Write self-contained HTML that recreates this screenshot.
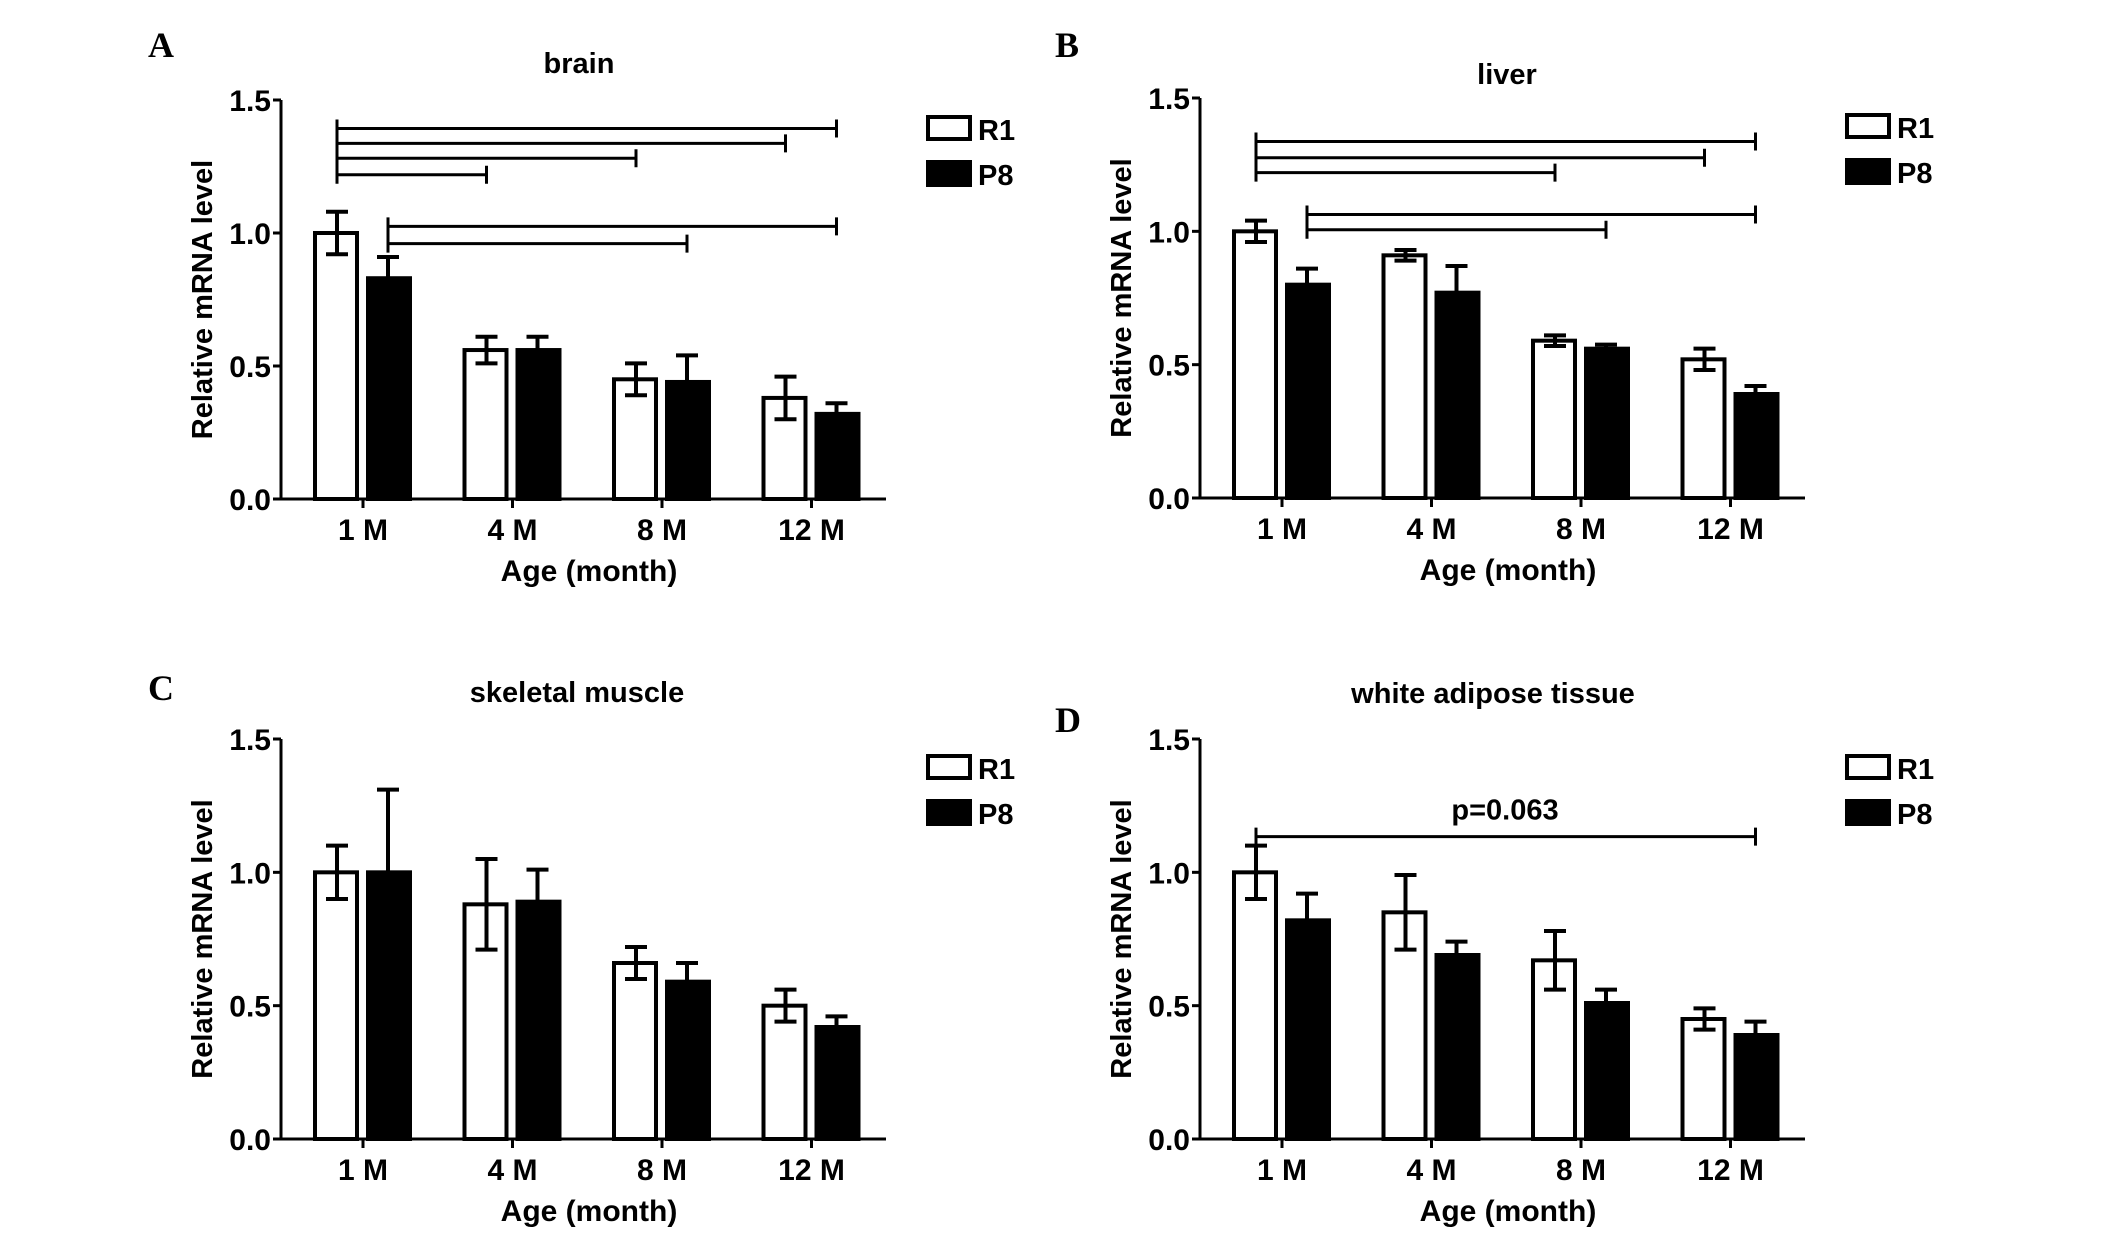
<!DOCTYPE html>
<html><head><meta charset="utf-8"><style>
html,body{margin:0;padding:0;background:#fff}
svg{display:block}
text{font-family:"Liberation Sans",Arial,sans-serif;font-weight:bold;fill:#000}
</style></head><body>
<svg id="fig" width="2126" height="1236" viewBox="0 0 2126 1236" xmlns="http://www.w3.org/2000/svg"></svg>
<script>
const categories = ["1 M","4 M","8 M","12 M"];
const yTicks = [0.0,0.5,1.0,1.5];
const yTickLabels = ["0.0","0.5","1.0","1.5"];
const brainR1 = [1.0,0.56,0.45,0.38];
const brainR1Err = [0.08,0.05,0.06,0.08];
const brainP8 = [0.83,0.56,0.44,0.32];
const brainP8Err = [0.08,0.05,0.10,0.04];
const liverR1 = [1.0,0.91,0.59,0.52];
const liverR1Err = [0.04,0.02,0.02,0.04];
const liverP8 = [0.80,0.77,0.56,0.39];
const liverP8Err = [0.06,0.10,0.015,0.03];
const muscleR1 = [1.0,0.88,0.66,0.50];
const muscleR1Err = [0.10,0.17,0.06,0.06];
const muscleP8 = [1.0,0.89,0.59,0.42];
const muscleP8Err = [0.31,0.12,0.07,0.04];
const fatR1 = [1.0,0.85,0.67,0.45];
const fatR1Err = [0.10,0.14,0.11,0.04];
const fatP8 = [0.82,0.69,0.51,0.39];
const fatP8Err = [0.10,0.05,0.05,0.05];
// brackets: [startCat, startSeries, endCat, endSeries, level]
const brainBrackets = [[0,0,3,1,1.393],[0,0,3,0,1.337],[0,0,2,0,1.281],[0,0,1,0,1.219],[0,1,3,1,1.025],[0,1,2,1,0.96]];
const liverBrackets = [[0,0,3,1,1.337],[0,0,3,0,1.276],[0,0,2,0,1.22],[0,1,3,1,1.063],[0,1,2,1,1.006]];
const fatBrackets = [[0,0,3,1,1.134]];

const NS="http://www.w3.org/2000/svg";
const svg=document.getElementById('fig');
function mk(tag,attrs,parent,txt){const e=document.createElementNS(NS,tag);for(const k in attrs)e.setAttribute(k,attrs[k]);if(txt!==undefined)e.textContent=txt;(parent||svg).appendChild(e);return e;}

function panel(o){
  const g=mk('g',{});
  
  
  const ax=o.ax,y0=o.y0,yT=o.yT,xEnd=ax+605;
  const Y=v=>y0-(v/1.5)*(y0-yT);
  const C=i=>ax+82+i*149.5;
  const bx=(i,s)=>s===0?C(i)-26:C(i)+25;
  const L=mk('text',{x:o.lx,y:o.ly,'font-size':36,style:'font-family:"Liberation Serif",serif;font-weight:bold'},g,o.letter);
  
  
  const T=mk('text',{x:o.tx,y:o.ty,'font-size':29,'text-anchor':'middle'},g,o.title);
  
  
  for(let s=0;s<2;s++){
    const vals=s===0?o.r1:o.p8, errs=s===0?o.r1e:o.p8e;
    vals.forEach((v,i)=>{
      const x0=s===0?C(i)-50:C(i)+3, w=46;
      const r=mk('rect',{x:x0+2,y:Y(v),width:w-4,height:y0-Y(v),fill:s===0?'#fff':'#000',stroke:'#000','stroke-width':4},g);
      
      
      const cx=bx(i,s), top=Y(v+errs[i]), bot=s===0?Y(v-errs[i]):Y(v);
      const e=mk('path',{d:`M${cx},${top}V${bot}M${cx-11},${top}H${cx+11}`+(s===0?`M${cx-11},${bot}H${cx+11}`:''),stroke:'#000','stroke-width':4,fill:'none'},g);
      
      
    });
  }
  const a=mk('path',{d:`M${ax},${yT}V${y0}H${xEnd}`,stroke:'#000','stroke-width':3,fill:'none'},g);
  
  
  yTicks.forEach((t,i)=>{
    mk('line',{x1:ax-8,x2:ax,y1:Y(t),y2:Y(t),stroke:'#000','stroke-width':3},g);
    const tl=mk('text',{x:ax-10,y:Y(t)+11,'font-size':30,'text-anchor':'end'},g,yTickLabels[i]);
    
    
  });
  categories.forEach((c,i)=>{
    mk('line',{x1:C(i),x2:C(i),y1:y0,y2:y0+9,stroke:'#000','stroke-width':3},g);
    const cl=mk('text',{x:C(i),y:y0+41,'font-size':30,'text-anchor':'middle'},g,c);
    
    
  });
  const xt=mk('text',{x:ax+308,y:y0+82,'font-size':30,'text-anchor':'middle'},g,'Age (month)');
  
  
  const yc=(y0+yT)/2;
  const yt=mk('text',{x:0,y:0,'font-size':29,'text-anchor':'middle',transform:`translate(${ax-69},${yc}) rotate(-90)`},g,'Relative mRNA level');
  
  
  (o.br||[]).forEach(b=>{
    const x1=bx(b[0],b[1]), x2=bx(b[2],b[3]), y=Y(b[4]);
    const p=mk('path',{d:`M${x1},${y-9}V${y+9}M${x1},${y}H${x2}M${x2},${y-9}V${y+9}`,stroke:'#000','stroke-width':3,fill:'none'},g);
    
    
  });
  if(o.ptext){
    const pt=mk('text',{x:ax+305,y:Y(1.134)-17,'font-size':29,'text-anchor':'middle'},g,o.ptext);
    
    
  }
  const lx=ax+645, ly=yT+15;
  const l1=mk('rect',{x:lx+2,y:ly+2,width:42,height:22,fill:'#fff',stroke:'#000','stroke-width':4},g);
  
  
  const t1=mk('text',{x:lx+52,y:ly+25,'font-size':29},g,'R1');
  
  
  const l2=mk('rect',{x:lx,y:ly+45,width:46,height:27,fill:'#000'},g);
  
  
  const t2=mk('text',{x:lx+52,y:ly+70,'font-size':29},g,'P8');
  
  
}
panel({name:'panel-a-brain',letter:'A',lx:148,ly:57,title:'brain',tx:579,ty:73,ax:281,y0:499,yT:100,r1:brainR1,r1e:brainR1Err,p8:brainP8,p8e:brainP8Err,br:brainBrackets});
panel({name:'panel-b-liver',letter:'B',lx:1055,ly:57,title:'liver',tx:1507,ty:84,ax:1200,y0:498,yT:98,r1:liverR1,r1e:liverR1Err,p8:liverP8,p8e:liverP8Err,br:liverBrackets});
panel({name:'panel-c-skeletal-muscle',letter:'C',lx:148,ly:700,title:'skeletal muscle',tx:577,ty:702,ax:281,y0:1139,yT:739,r1:muscleR1,r1e:muscleR1Err,p8:muscleP8,p8e:muscleP8Err});
panel({name:'panel-d-white-adipose',letter:'D',lx:1055,ly:732,title:'white adipose tissue',tx:1493,ty:703,ax:1200,y0:1139,yT:739,r1:fatR1,r1e:fatR1Err,p8:fatP8,p8e:fatP8Err,br:fatBrackets,ptext:'p=0.063'});
</script>
</body></html>
